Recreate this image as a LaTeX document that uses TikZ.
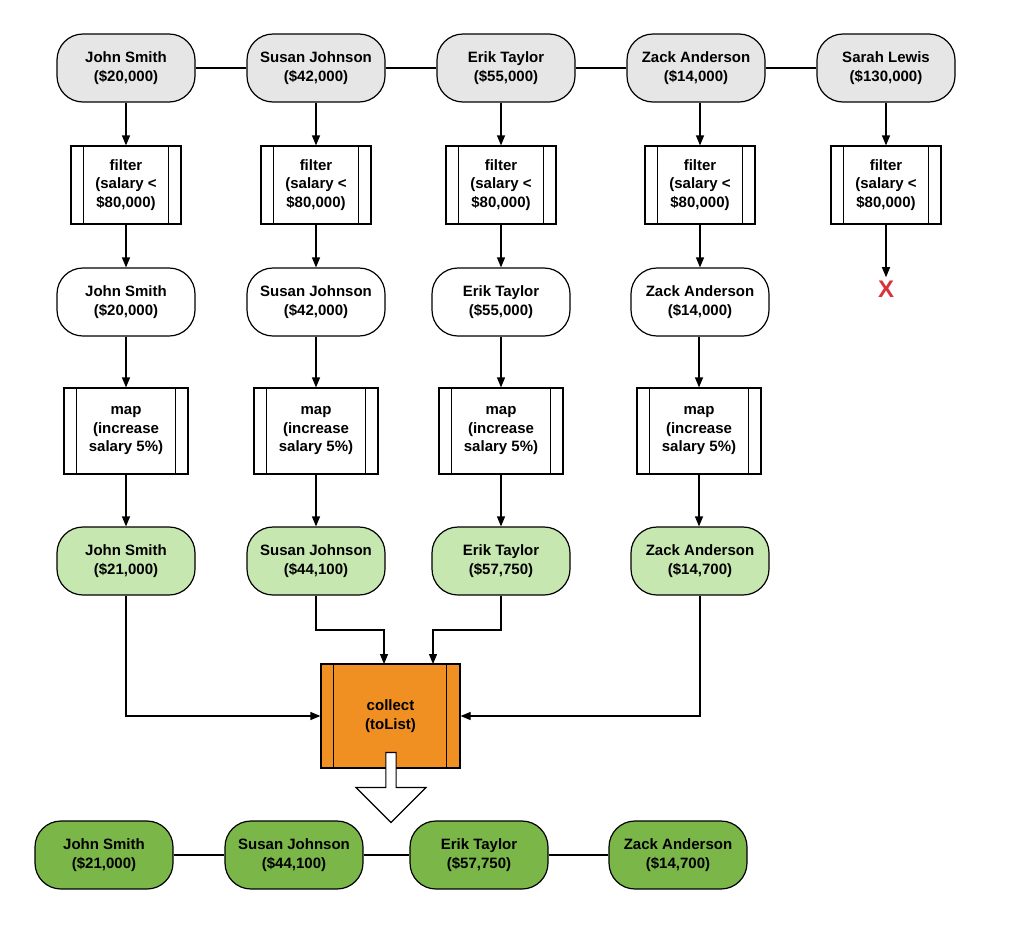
\documentclass[tikz,border=0pt]{standalone}
\usepackage{fontspec}
\setmainfont{Liberation Sans}
\usetikzlibrary{arrows.meta,shapes.arrows}
\definecolor{lgray}{HTML}{E6E6E6}
\definecolor{lgreen}{HTML}{C6E8B0}
\definecolor{dgreen}{HTML}{7AB648}
\definecolor{orng}{HTML}{F08F22}
\definecolor{redx}{HTML}{D9323A}
\begin{document}
\begin{tikzpicture}[x=1pt,y=-1pt,
  emp/.style={draw,line width=1.2pt,rounded corners=26pt,minimum width=138pt,minimum height=68pt,font=\bfseries\fontsize{15}{18.5}\selectfont,align=center,inner sep=0pt},
  op/.style={draw,line width=1.2pt,minimum height=78pt,minimum width=110pt,font=\bfseries\fontsize{15}{18.5}\selectfont,align=center,inner sep=0pt,fill=white},
  arr/.style={line width=1.2pt,-{Triangle[length=10pt,width=8pt]}},
  ln/.style={line width=1.2pt}]
\useasboundingbox (0,0) rectangle (1024,924);
\newcommand{\bars}[2]{\draw[line width=1.2pt] ([xshift=13pt]#1.north west)--([xshift=13pt]#1.south west) ([xshift=-#2]#1.north east)--([xshift=-#2]#1.south east);}
% row1
\foreach \n/\x/\t/\s in {a1/126/John Smith/{20,000}, a2/316/Susan Johnson/{42,000}, a3/506/Erik Taylor/{55,000}, a4/696/Zack Anderson/{14,000}, a5/886/Sarah Lewis/{130,000}}
  \node[emp,fill=lgray] (\n) at (\x,68) {\t\\(\$\s)};
\draw[ln] (a1)--(a2) (a2)--(a3) (a3)--(a4) (a4)--(a5);
% filters
\foreach \n/\x in {f1/126,f2/316,f3/501,f4/700,f5/886}{
  \node[op] (\n) at (\x,185) {filter\\(salary <\\\$80,000)};
  \bars{\n}{13pt}}
\foreach \i in {1,...,5}\draw[arr] (a\i.south -| f\i) -- (f\i);
% row3
\foreach \n/\x/\t/\s in {b1/126/John Smith/{20,000}, b2/316/Susan Johnson/{42,000}, b3/501/Erik Taylor/{55,000}, b4/700/Zack Anderson/{14,000}}
  \node[emp,fill=white] (\n) at (\x,302) {\t\\(\$\s)};
\foreach \i in {1,...,4}\draw[arr] (f\i) -- (b\i);
\node[text=redx,font=\bfseries\fontsize{24}{24}\selectfont] (x5) at (886,289) {X};
\draw[arr] (f5) -- (x5.north);
% map
\foreach \n/\x in {m1/126,m2/316,m3/501,m4/699}{
  \node[op,minimum width=124pt,minimum height=86pt] (\n) at (\x,431) {map\\(increase\\salary 5\%)};
  \bars{\n}{13pt}}
\foreach \i in {1,...,4}\draw[arr] (b\i.south -| m\i) -- (m\i);
% row5
\foreach \n/\x/\t/\s in {c1/126/John Smith/{21,000}, c2/316/Susan Johnson/{44,100}, c3/501/Erik Taylor/{57,750}, c4/700/Zack Anderson/{14,700}}
  \node[emp,fill=lgreen] (\n) at (\x,561) {\t\\(\$\s)};
\foreach \i in {1,...,4}\draw[arr] (m\i) -- (c\i.north -| m\i);
% collect
\node[op,fill=orng,minimum width=139pt,minimum height=104pt] (col) at (390.5,716) {collect\\(toList)};
\bars{col}{14pt}
\coordinate (t1) at (384,664); \coordinate (t2) at (433,664);
\draw[arr] (c1.south) |- (col.west);
\draw[arr] (c4.south) |- (col.east);
\draw[arr] (c2.south) -- (316,630) -| (t1);
\draw[arr] (c3.south) -- (501,630) -| (t2);
% big arrow
\node[draw,fill=white,line width=1.2pt,single arrow,shape border rotate=270,minimum height=70pt,minimum width=70pt,single arrow head extend=18pt,inner sep=0pt] (big) at (391,785) {\phantom{x}};
% bottom
\foreach \n/\x/\t/\s in {d1/104/John Smith/{21,000}, d2/294/Susan Johnson/{44,100}, d3/479/Erik Taylor/{57,750}, d4/678/Zack Anderson/{14,700}}
  \node[emp,fill=dgreen] (\n) at (\x,855) {\t\\(\$\s)};
\draw[ln] (d1)--(d2) (d2)--(d3) (d3)--(d4);
\end{tikzpicture}
\end{document}
